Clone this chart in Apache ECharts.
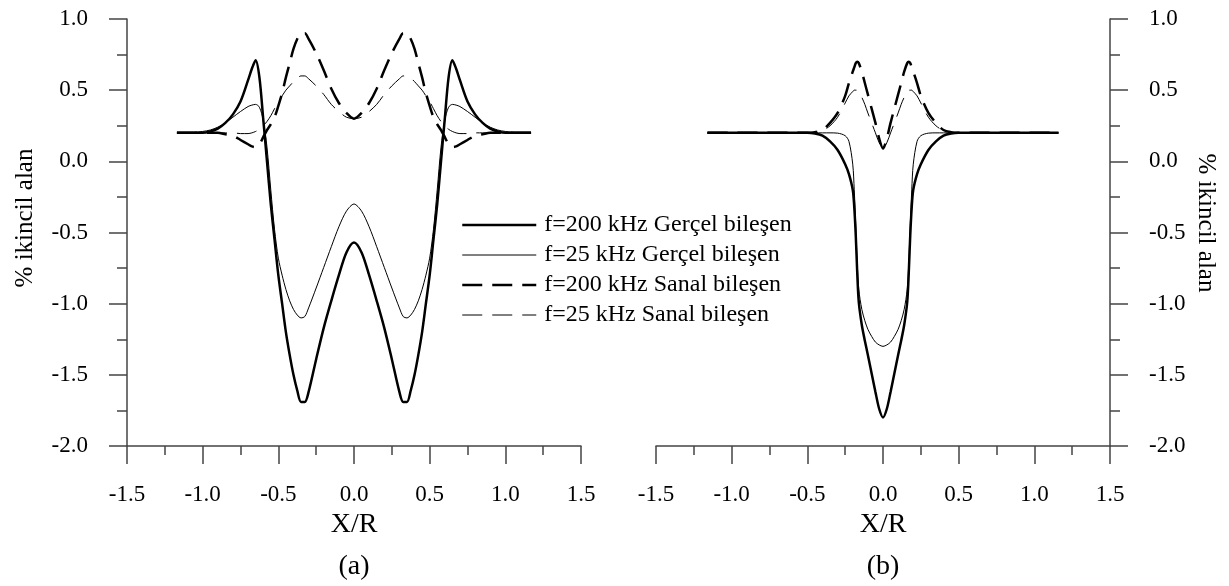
<!DOCTYPE html>
<html>
<head>
<meta charset="utf-8">
<script src="https://cdn.jsdelivr.net/npm/echarts@6/dist/echarts.min.js"></script>
<style>
  html, body { margin: 0; padding: 0; background: #fff; }
  #chart { width: 1229px; height: 586px; }
</style>
</head>
<body>
<div id="chart"></div>
<script>
// panel (a) x positions
const xa = [-1.17, -1.1, -1.0, -0.95, -0.9, -0.85, -0.8, -0.75, -0.7, -0.675, -0.65, -0.625, -0.6, -0.575, -0.55, -0.525, -0.5, -0.475, -0.45, -0.425, -0.4, -0.375, -0.35, -0.325, -0.3, -0.25, -0.2, -0.15, -0.1, -0.05,
  0,
  0.05, 0.1, 0.15, 0.2, 0.25, 0.3, 0.325, 0.35, 0.375, 0.4, 0.425, 0.45, 0.475, 0.5, 0.525, 0.55, 0.575, 0.6, 0.625, 0.65, 0.675, 0.7, 0.75, 0.8, 0.85, 0.9, 0.95, 1.0, 1.1, 1.17]

const real200a = [0.2, 0.2, 0.2, 0.21, 0.23, 0.27, 0.33, 0.42, 0.57, 0.65, 0.71, 0.59, 0.3, 0.0, -0.3, -0.55, -0.8, -1.0, -1.2, -1.36, -1.5, -1.61, -1.69, -1.69, -1.62, -1.39, -1.17, -0.98, -0.8, -0.64,
  -0.57,
  -0.64, -0.8, -0.98, -1.17, -1.39, -1.62, -1.69, -1.69, -1.61, -1.5, -1.36, -1.2, -1.0, -0.8, -0.55, -0.3, 0.0, 0.3, 0.59, 0.71, 0.65, 0.57, 0.42, 0.33, 0.27, 0.23, 0.21, 0.2, 0.2, 0.2]

const real25a = [0.2, 0.2, 0.21, 0.22, 0.24, 0.27, 0.31, 0.35, 0.385, 0.395, 0.4, 0.38, 0.29, 0.1, -0.2, -0.48, -0.68, -0.8, -0.9, -0.98, -1.04, -1.08, -1.1, -1.09, -1.03, -0.89, -0.745, -0.6, -0.46, -0.35,
  -0.3,
  -0.35, -0.46, -0.6, -0.745, -0.89, -1.03, -1.09, -1.1, -1.08, -1.04, -0.98, -0.9, -0.8, -0.68, -0.48, -0.2, 0.1, 0.29, 0.38, 0.4, 0.395, 0.385, 0.35, 0.31, 0.27, 0.24, 0.22, 0.21, 0.2, 0.2]

const imag200a = [0.2, 0.2, 0.2, 0.2, 0.2, 0.19, 0.18, 0.15, 0.12, 0.105, 0.1, 0.12, 0.17, 0.22, 0.26, 0.31, 0.39, 0.48, 0.59, 0.69, 0.79, 0.86, 0.9, 0.9, 0.86, 0.76, 0.64, 0.51, 0.41, 0.34,
  0.3,
  0.34, 0.41, 0.51, 0.64, 0.76, 0.86, 0.9, 0.9, 0.86, 0.79, 0.69, 0.59, 0.48, 0.39, 0.31, 0.26, 0.22, 0.17, 0.12, 0.1, 0.105, 0.12, 0.15, 0.18, 0.19, 0.2, 0.2, 0.2, 0.2, 0.2]

const imag25a = [0.2, 0.2, 0.2, 0.2, 0.2, 0.2, 0.2, 0.195, 0.195, 0.2, 0.21, 0.225, 0.25, 0.28, 0.32, 0.37, 0.42, 0.46, 0.5, 0.53, 0.56, 0.585, 0.6, 0.6, 0.58, 0.53, 0.47, 0.4, 0.35, 0.31,
  0.3,
  0.31, 0.35, 0.4, 0.47, 0.53, 0.58, 0.6, 0.6, 0.585, 0.56, 0.53, 0.5, 0.46, 0.42, 0.37, 0.32, 0.28, 0.25, 0.225, 0.21, 0.2, 0.195, 0.195, 0.2, 0.2, 0.2, 0.2, 0.2, 0.2, 0.2]

// panel (b) x positions
const xb = [-1.16, -1.0, -0.8, -0.6, -0.5, -0.45, -0.4, -0.35, -0.3, -0.25, -0.225, -0.2, -0.19, -0.18, -0.17, -0.16, -0.14, -0.12, -0.1, -0.075, -0.05, -0.025,
  0,
  0.025, 0.05, 0.075, 0.1, 0.12, 0.14, 0.16, 0.17, 0.18, 0.19, 0.2, 0.225, 0.25, 0.3, 0.35, 0.4, 0.45, 0.5, 0.6, 0.8, 1.0, 1.16]

const real200b = [0.2, 0.2, 0.2, 0.2, 0.2, 0.195, 0.18, 0.14, 0.08, -0.02, -0.09, -0.2, -0.32, -0.52, -0.79, -0.99, -1.15, -1.26, -1.36, -1.49, -1.62, -1.74,
  -1.8,
  -1.74, -1.62, -1.49, -1.36, -1.26, -1.15, -0.99, -0.79, -0.52, -0.32, -0.2, -0.09, -0.02, 0.08, 0.14, 0.18, 0.195, 0.2, 0.2, 0.2, 0.2, 0.2]

const real25b = [0.2, 0.2, 0.2, 0.2, 0.2, 0.2, 0.2, 0.2, 0.198, 0.18, 0.14, -0.02, -0.2, -0.45, -0.72, -0.9, -1.04, -1.12, -1.18, -1.23, -1.27, -1.29,
  -1.3,
  -1.29, -1.27, -1.23, -1.18, -1.12, -1.04, -0.9, -0.72, -0.45, -0.2, -0.02, 0.14, 0.18, 0.198, 0.2, 0.2, 0.2, 0.2, 0.2, 0.2, 0.2, 0.2]

const imag200b = [0.2, 0.2, 0.2, 0.2, 0.2, 0.205, 0.22, 0.27, 0.34, 0.46, 0.55, 0.63, 0.66, 0.69, 0.7, 0.69, 0.63, 0.55, 0.47, 0.37, 0.27, 0.16,
  0.09,
  0.16, 0.27, 0.37, 0.47, 0.55, 0.63, 0.69, 0.7, 0.69, 0.66, 0.63, 0.55, 0.46, 0.34, 0.27, 0.22, 0.205, 0.2, 0.2, 0.2, 0.2, 0.2]

const imag25b = [0.2, 0.2, 0.2, 0.2, 0.2, 0.2, 0.215, 0.25, 0.31, 0.41, 0.46, 0.49, 0.5, 0.5, 0.5, 0.49, 0.45, 0.4, 0.34, 0.27, 0.2, 0.13,
  0.09,
  0.13, 0.2, 0.27, 0.34, 0.4, 0.45, 0.49, 0.5, 0.5, 0.5, 0.49, 0.46, 0.41, 0.31, 0.25, 0.215, 0.2, 0.2, 0.2, 0.2, 0.2, 0.2]

const seriesNames = ['f=200 kHz Gerçel bileşen', 'f=25 kHz Gerçel bileşen', 'f=200 kHz Sanal bileşen', 'f=25 kHz Sanal bileşen']
const xTicks = [-1.5, 1.5, 0.5]
const yTicks = [-2.0, 1.0, 0.5]
const yTitle = '% ikincil alan'
const xTitle = 'X/R'
const panelLabels = ['(a)', '(b)']

const font = '"Liberation Serif", "Times New Roman", serif'
const axisColor = '#444'
const dash = [20, 10]
// width and dash for the four curve kinds
const styles = [
  { width: 2.5, type: 'solid' },
  { width: 1, type: 'solid' },
  { width: 2.5, type: dash },
  { width: 1, type: dash }
]

const chart = echarts.init(document.getElementById('chart'))

const xAxisFor = (gridIndex) => ({
  type: 'value',
  gridIndex,
  min: xTicks[0],
  max: xTicks[1],
  interval: xTicks[2],
  name: xTitle,
  nameLocation: 'middle',
  nameGap: 60,
  nameTextStyle: { fontFamily: font, fontSize: 28, color: '#000' },
  axisLine: { onZero: false, lineStyle: { color: axisColor, width: 1.5 } },
  axisTick: { inside: false, length: 18, lineStyle: { color: axisColor, width: 1.5 } },
  minorTick: { show: true, splitNumber: 2, length: 9, lineStyle: { color: axisColor, width: 1.5 } },
  axisLabel: { fontFamily: font, fontSize: 23, color: '#000', margin: 37, formatter: (v) => v.toFixed(1) },
  splitLine: { show: false },
  minorSplitLine: { show: false }
})

const yAxisFor = (gridIndex, position) => ({
  type: 'value',
  gridIndex,
  position,
  min: yTicks[0],
  max: yTicks[1],
  interval: yTicks[2],
  axisLine: { show: true, onZero: false, lineStyle: { color: axisColor, width: 1.5 } },
  axisTick: { show: true, inside: false, length: 18, lineStyle: { color: axisColor, width: 1.5 } },
  minorTick: { show: true, splitNumber: 2, length: 10, lineStyle: { color: axisColor, width: 1.5 } },
  axisLabel: { fontFamily: font, fontSize: 23, color: '#000', margin: 39, formatter: (v) => v.toFixed(1) },
  splitLine: { show: false },
  minorSplitLine: { show: false }
})

const panelA = [real200a, real25a, imag200a, imag25a]
const panelB = [real200b, real25b, imag200b, imag25b]

const makeSeries = (xs, values, k, gridIndex) => ({
  name: seriesNames[k],
  type: 'line',
  xAxisIndex: gridIndex,
  yAxisIndex: gridIndex,
  data: xs.map((x, i) => [x, values[i]]),
  symbol: 'none',
  smooth: 0.3,
  silent: true,
  lineStyle: { color: '#000', width: styles[k].width, type: styles[k].type },
  itemStyle: { color: '#000' }
})

const series = []
panelA.forEach((vals, k) => series.push(makeSeries(xa, vals, k, 0)))
panelB.forEach((vals, k) => series.push(makeSeries(xb, vals, k, 1)))

const option = {
  animation: false,
  backgroundColor: '#fff',
  grid: [
    { left: 127, right: 648, top: 19, bottom: 140 },
    { left: 656, right: 119, top: 19, bottom: 140 }
  ],
  xAxis: [xAxisFor(0), xAxisFor(1)],
  yAxis: [yAxisFor(0, 'left'), yAxisFor(1, 'right')],
  legend: {
    orient: 'vertical',
    left: 461,
    top: 213,
    padding: 0,
    itemWidth: 74,
    itemHeight: 14,
    itemGap: 6,
    selectedMode: false,
    itemStyle: { opacity: 0 },
    textStyle: { fontFamily: font, fontSize: 24, color: '#000', padding: [0, 0, 0, 3] },
    data: seriesNames.map((name, k) => ({
      name,
      lineStyle: { width: styles[k].width, type: styles[k].type, color: '#000' }
    }))
  },
  graphic: [
    {
      type: 'text', x: 25, y: 218, rotation: Math.PI / 2,
      style: { text: yTitle, font: '25px ' + font, fill: '#000', align: 'center', verticalAlign: 'middle' }
    },
    {
      type: 'text', x: 1206, y: 223, rotation: -Math.PI / 2,
      style: { text: yTitle, font: '25px ' + font, fill: '#000', align: 'center', verticalAlign: 'middle' }
    },
    {
      type: 'text', x: 354, y: 567,
      style: { text: panelLabels[0], font: '28px ' + font, fill: '#000', align: 'center', verticalAlign: 'middle' }
    },
    {
      type: 'text', x: 883, y: 567,
      style: { text: panelLabels[1], font: '28px ' + font, fill: '#000', align: 'center', verticalAlign: 'middle' }
    }
  ],
  series
}

chart.setOption(option)
</script>
</body>
</html>
